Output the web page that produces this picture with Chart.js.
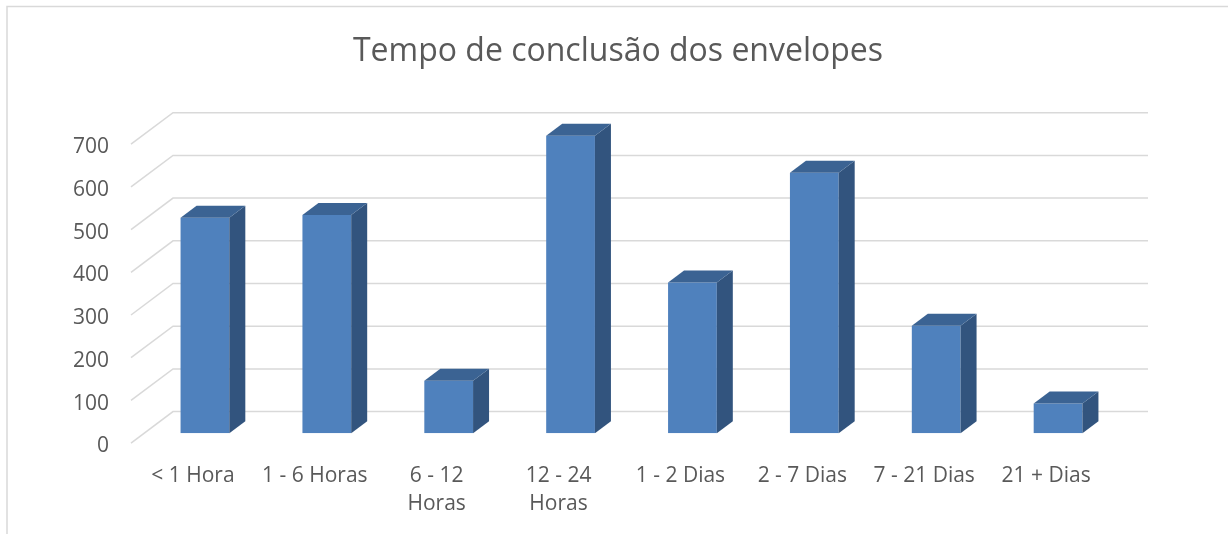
<!DOCTYPE html>
<html>
<head>
<meta charset="utf-8">
<script src="https://cdn.jsdelivr.net/npm/chart.js@4/dist/chart.umd.min.js"></script>
<style>
  html, body { margin: 0; padding: 0; background: #ffffff; }
  #wrap { position: relative; width: 1228px; height: 534px; }
  canvas { display: block; }
</style>
</head>
<body>
<div id="wrap"><canvas id="c" width="1228" height="534"></canvas></div>
<script>
const chartTitle = 'Tempo de conclusão dos envelopes';
const categories = [
  '< 1 Hora',
  '1 - 6 Horas',
  ['6 - 12', 'Horas'],
  ['12 - 24', 'Horas'],
  '1 - 2 Dias',
  '2 - 7 Dias',
  '7 - 21 Dias',
  '21 + Dias'
];
const envelopes = [505, 511, 123, 697, 353, 610, 252, 70];
const yTicks = [0, 100, 200, 300, 400, 500, 600, 700];

const TEXT = '#595959';
const GRID = '#d9d9d9';
const FRONT = '#4f81bd';
const SIDE = '#32547e';
const TOP = '#3b6393';
const DEPTH_X = 16, DEPTH_Y = 12;       // bar depth
const BACK_X = 29, BACK_Y = 21.7;       // bar plane -> back wall
const FRONT_X = 13, FRONT_Y = 9.8;      // bar plane -> floor front edge

const frame = {
  id: 'frame',
  beforeDraw(chart) {
    const ctx = chart.ctx;
    ctx.save();
    ctx.fillStyle = '#ffffff';
    ctx.fillRect(0, 0, chart.width, chart.height);
    ctx.strokeStyle = GRID;
    ctx.lineWidth = 1.5;
    ctx.beginPath();
    ctx.moveTo(7, chart.height);
    ctx.lineTo(7, 6.5);
    ctx.lineTo(chart.width, 6.5);
    ctx.stroke();
    ctx.restore();
  }
};

const grid3d = {
  id: 'grid3d',
  beforeDatasetsDraw(chart) {
    const ctx = chart.ctx, y = chart.scales.y, a = chart.chartArea;
    ctx.save();
    ctx.strokeStyle = GRID;
    ctx.lineWidth = 1.5;
    y.ticks.forEach(t => {
      const py = y.getPixelForValue(t.value);
      ctx.beginPath();
      ctx.moveTo(a.left - FRONT_X, py + FRONT_Y);
      ctx.lineTo(a.left + BACK_X, py - BACK_Y);
      ctx.lineTo(a.right + BACK_X, py - BACK_Y);
      ctx.stroke();
    });
    ctx.restore();
  }
};

const bars3d = {
  id: 'bars3d',
  afterDatasetsDraw(chart) {
    const ctx = chart.ctx;
    const meta = chart.getDatasetMeta(0);
    ctx.save();
    meta.data.forEach(bar => {
      const p = bar.getProps(['x', 'y', 'base', 'width'], true);
      const l = p.x - p.width / 2, r = p.x + p.width / 2;
      ctx.fillStyle = SIDE;
      ctx.beginPath();
      ctx.moveTo(r, p.y);
      ctx.lineTo(r + DEPTH_X, p.y - DEPTH_Y);
      ctx.lineTo(r + DEPTH_X, p.base - DEPTH_Y);
      ctx.lineTo(r, p.base);
      ctx.closePath();
      ctx.fill();
      ctx.fillStyle = TOP;
      ctx.beginPath();
      ctx.moveTo(l, p.y);
      ctx.lineTo(l + DEPTH_X, p.y - DEPTH_Y);
      ctx.lineTo(r + DEPTH_X, p.y - DEPTH_Y);
      ctx.lineTo(r, p.y);
      ctx.closePath();
      ctx.fill();
    });
    ctx.restore();
  }
};

new Chart(document.getElementById('c'), {
  type: 'bar',
  data: {
    labels: categories,
    datasets: [{
      label: 'Envelopes',
      data: envelopes,
      backgroundColor: FRONT,
      borderWidth: 0,
      categoryPercentage: 1,
      barPercentage: 0.4,
      yAxisID: 'y'
    }]
  },
  options: {
    responsive: false,
    animation: false,
    layout: { padding: { left: 8, right: 0, top: 0, bottom: 0 } },
    plugins: {
      legend: { display: false },
      tooltip: { enabled: false },
      title: {
        display: true,
        text: chartTitle,
        color: TEXT,
        font: { family: 'Open Sans', size: 32, weight: 'normal', lineHeight: 1.2 },
        padding: { top: 33, bottom: 63 }
      }
    },
    scales: {
      x: {
        grid: { display: false, drawTicks: false },
        border: { display: false },
        ticks: {
          color: TEXT,
          font: { family: 'Open Sans', size: 21, lineHeight: 1.33 },
          labelOffset: -12,
          padding: 29,
          maxRotation: 0,
          autoSkip: false
        },
        afterFit(s) { s.height = 100.7; }
      },
      y: {
        min: 0,
        max: 700,
        grid: { display: false, drawTicks: false },
        border: { display: false },
        afterBuildTicks(s) { s.ticks = yTicks.map(v => ({ value: v })); },
        ticks: {
          color: TEXT,
          font: { family: 'Open Sans', size: 21 },
          labelOffset: 13,
          padding: 35
        },
        afterFit(s) { s.width = 136; }
      },
      yRight: {
        type: 'linear',
        position: 'right',
        display: true,
        grid: { display: false, drawTicks: false },
        border: { display: false },
        ticks: { display: false },
        afterFit(s) { s.width = 109; }
      }
    }
  },
  plugins: [frame, grid3d, bars3d]
});
</script>
</body>
</html>
